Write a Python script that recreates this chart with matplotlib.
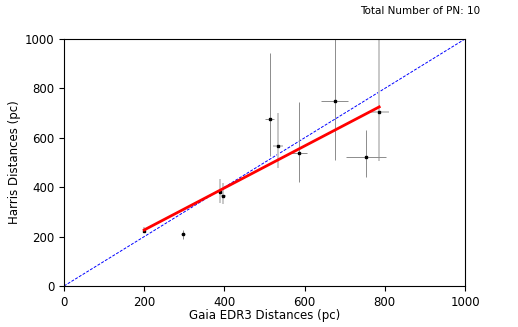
import matplotlib
matplotlib.use("Agg")
import matplotlib.pyplot as plt
import numpy as np

gaia = [200, 297, 389, 396, 513, 533, 586, 675, 752, 785]
harris = [224, 209, 382, 366, 675, 567, 540, 750, 521, 703]
harris_lo = [8, 18, 45, 35, 149, 89, 118, 240, 78, 196]
harris_hi = [14, 18, 50, 50, 268, 133, 206, 320, 111, 400]
gaia_err = [3, 5, 4, 8, 11, 12, 21, 34, 50, 26]

fit_x = [200, 786]
fit_slope = 0.85
fit_intercept = 57

n_pn = 10

# which error bars are drawn in the lighter, wider style
light_style = [True, False, True, True, False, True, False, False, False, True]

fig = plt.figure(figsize=(5.18, 3.27), dpi=100)
ax = fig.add_axes([0.1236, 0.1254, 0.7741, 0.7553])

ax.plot([0, 1000], [0, 1000], color='blue', linestyle='--', linewidth=0.7, dashes=(3, 1.5))

g = np.array(gaia); h = np.array(harris)
lo = np.array(harris_lo); hi = np.array(harris_hi); ge = np.array(gaia_err)
m = np.array(light_style)
for mask, col, lw in [(m, '#c8c8c8', 1.4), (~m, '#8c8c8c', 0.7)]:
    ax.errorbar(g[mask], h[mask], yerr=[lo[mask], hi[mask]], xerr=ge[mask],
                fmt='none', ecolor=col, elinewidth=lw, capsize=0, zorder=2)
ax.plot(g, h, 's', color='black', markersize=1.5, zorder=3)

fx = np.array(fit_x)
ax.plot(fx, fit_intercept + fit_slope * fx, color='red', linewidth=2, zorder=4)

ax.set_xlim(0, 1000)
ax.set_ylim(0, 1000)
ax.set_xticks([0, 200, 400, 600, 800, 1000])
ax.set_yticks([0, 200, 400, 600, 800, 1000])
ax.tick_params(labelsize=8.5)
ax.set_xlabel('Gaia EDR3 Distances (pc)', fontsize=8.5, labelpad=0)
ax.set_ylabel('Harris Distances (pc)', fontsize=8.5, labelpad=3)

fig.text(0.927, 0.966, f'Total Number of PN: {n_pn}', fontsize=7.5, ha='right', va='center')

fig.savefig('out.png', dpi=100)
